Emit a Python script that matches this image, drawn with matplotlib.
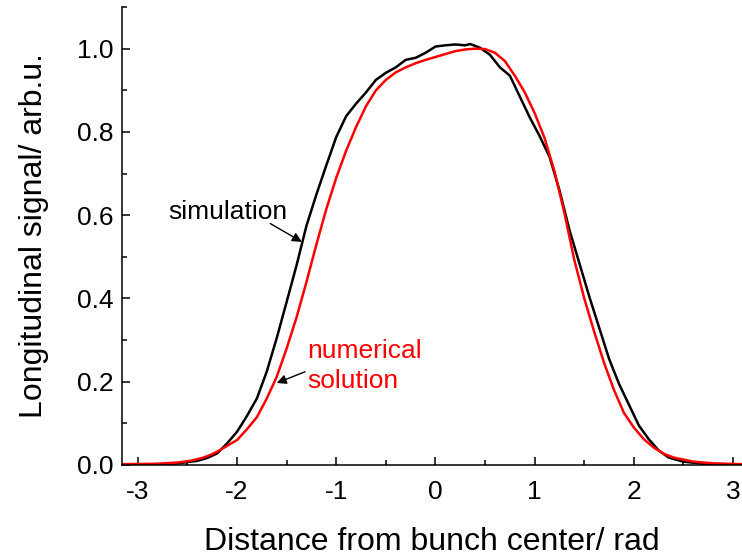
import matplotlib
matplotlib.use("Agg")
import matplotlib.pyplot as plt
from matplotlib.ticker import MultipleLocator

plt.rcParams['font.family'] = ['Liberation Sans', 'DejaVu Sans']

# simulation (black)
sim_x = [-3.16, -2.8, -2.6, -2.4, -2.3, -2.2, -2.1, -2.0, -1.9, -1.8, -1.7, -1.6, -1.5,
         -1.4, -1.3, -1.2, -1.1, -1.0, -0.9, -0.8, -0.7, -0.6, -0.5, -0.4, -0.3, -0.2,
         -0.1, 0.0, 0.1, 0.2, 0.3, 0.35, 0.45, 0.55, 0.65, 0.75, 0.85, 0.95, 1.05, 1.15,
         1.25, 1.35, 1.45, 1.55, 1.65, 1.75, 1.85, 1.95, 2.05, 2.15, 2.25, 2.35, 2.5,
         2.7, 3.09]
sim_y = [0.0, 0.002, 0.004, 0.010, 0.017, 0.028, 0.052, 0.080, 0.118, 0.160, 0.225, 0.305,
         0.392, 0.480, 0.575, 0.650, 0.720, 0.788, 0.838, 0.868, 0.895, 0.925, 0.942,
         0.955, 0.973, 0.978, 0.990, 1.005, 1.008, 1.010, 1.008, 1.011, 1.002, 0.985,
         0.955, 0.935, 0.885, 0.835, 0.790, 0.740, 0.660, 0.565, 0.485, 0.405, 0.330,
         0.255, 0.195, 0.145, 0.095, 0.062, 0.035, 0.018, 0.008, 0.003, 0.0]

# numerical solution (red)
num_x = [-3.16, -2.8, -2.6, -2.47, -2.35, -2.27, -2.2, -2.1, -2.0, -1.9, -1.8, -1.7, -1.6,
         -1.5, -1.4, -1.3, -1.2, -1.1, -1.0, -0.9, -0.8, -0.7, -0.6, -0.5, -0.4, -0.3,
         -0.2, -0.1, 0.0, 0.1, 0.2, 0.3, 0.4, 0.5, 0.6, 0.7, 0.8, 0.9, 1.0, 1.1, 1.2,
         1.3, 1.4, 1.5, 1.6, 1.7, 1.8, 1.9, 2.0, 2.1, 2.2, 2.3, 2.4, 2.6, 2.8, 3.09]
num_y = [0.002, 0.003, 0.006, 0.010, 0.017, 0.024, 0.032, 0.046, 0.060, 0.086, 0.115,
         0.160, 0.212, 0.280, 0.355, 0.440, 0.530, 0.615, 0.690, 0.755, 0.812, 0.862,
         0.900, 0.925, 0.943, 0.955, 0.965, 0.973, 0.980, 0.987, 0.994, 0.998, 1.000,
         0.999, 0.990, 0.970, 0.935, 0.895, 0.845, 0.785, 0.705, 0.605, 0.492, 0.400,
         0.320, 0.245, 0.180, 0.125, 0.090, 0.062, 0.042, 0.027, 0.018, 0.008, 0.004,
         0.002]

xticks = [-3, -2, -1, 0, 1, 2, 3]
yticks = [0.0, 0.2, 0.4, 0.6, 0.8, 1.0]

fig = plt.figure(figsize=(7.42, 5.56), dpi=100)
ax = fig.add_axes([122/742, 91/556, 620/742, 458/556])

ax.plot(sim_x, sim_y, color='black', lw=1.8)
ax.plot(num_x, num_y, color='red', lw=1.8)

ax.set_xlim(-3.16, 3.09)
ax.set_ylim(0, 1.1)
ax.set_xticks(xticks)
ax.set_yticks(yticks)
ax.set_xticklabels([str(t) for t in xticks])
ax.set_yticklabels([f"{t:.1f}" for t in yticks])
ax.xaxis.set_minor_locator(MultipleLocator(0.5))
ax.yaxis.set_minor_locator(MultipleLocator(0.1))

for s in ['top', 'right']:
    ax.spines[s].set_visible(False)
for s in ['left', 'bottom']:
    ax.spines[s].set_linewidth(1.1)

ax.tick_params(which='major', direction='in', length=6, width=1.1, labelsize=19)
ax.tick_params(which='minor', direction='in', length=3.5, width=1.1)
ax.tick_params(axis='x', which='major', pad=11)
ax.tick_params(axis='y', which='major', pad=6)

ax.set_xlabel("Distance from bunch center/ rad", fontsize=23, labelpad=16)
ax.set_ylabel("Longitudinal signal/ arb.u.", fontsize=23, labelpad=20)

ax.text(-2.09, 0.607, "simulation", fontsize=19, color='black',
        ha='center', va='center')
ax.annotate("", xy=(-1.347, 0.536), xytext=(-1.666, 0.58),
            arrowprops=dict(arrowstyle='-|>', color='black', lw=1.0,
                            mutation_scale=14, shrinkA=0, shrinkB=0))
ax.annotate("", xy=(-1.60, 0.197), xytext=(-1.314, 0.224),
            arrowprops=dict(arrowstyle='-|>', color='black', lw=1.0,
                            mutation_scale=14, shrinkA=0, shrinkB=0))
ax.text(-1.294, 0.2385, "numerical\nsolution", fontsize=19, color='red',
        ha='left', va='center', linespacing=1.3)

fig.savefig("out.png", dpi=100)
